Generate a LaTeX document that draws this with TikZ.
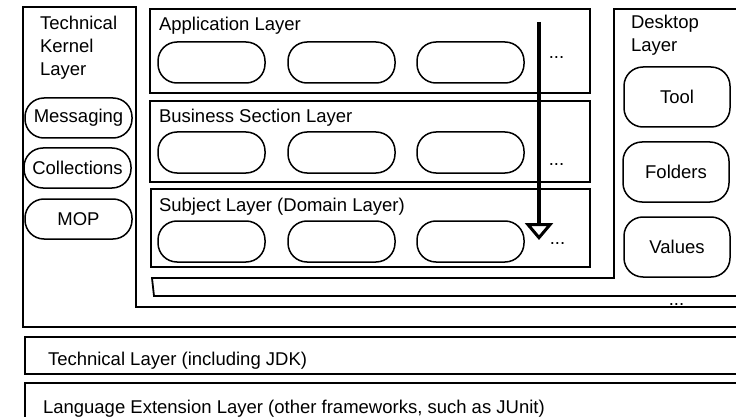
\documentclass[tikz,border=0pt]{standalone}
\usepackage{fontspec}
\setmainfont{Liberation Sans}
\usetikzlibrary{arrows.meta}
\begin{document}
\begin{tikzpicture}[x=1pt,y=-1pt,
  every node/.style={font=\fontsize{18.5}{22}\selectfont, inner sep=0pt, outer sep=0pt},
  frame/.style={draw=black, line width=1.8pt, line join=miter},
  layerbox/.style={draw=black, line width=1.8pt, anchor=north west, rectangle},
  pill/.style={draw=black, line width=1.5pt, rounded corners=19pt, minimum width=107pt, minimum height=41pt},
  deskbox/.style={draw=black, line width=1.5pt, rounded corners=19pt, minimum width=106pt, minimum height=60pt},
  lbl/.style={anchor=base west},
  ellip/.style={anchor=base}
]
\useasboundingbox (0,0) rectangle (736,417);
\clip (0,0) rectangle (736,417);
\fill[white] (0,0) rectangle (736,417);

% Technical Kernel Layer (L-shaped frame)
\draw[frame] (23,7) -- (136,7) -- (136,307) -- (745,307) -- (745,327) -- (23,327) -- cycle;
% Desktop layer joined with the base platform
\draw[frame] (152,278) -- (614,278) -- (614,9) -- (745,9) -- (745,296) -- (154,296) -- cycle;

% kernel title
\node[lbl] (kt1) at (40,30) {Technical};
\node[lbl] (kt2) at (40,53) {Kernel};
\node[lbl] (kt3) at (40,76) {Layer};

% kernel elements
\node[pill, minimum height=40pt] (msg) at (78.5,118) {Messaging};
\node[pill, minimum height=40pt] (coll) at (77.5,168) {Collections};
\node[pill, minimum height=40pt] (mop) at (78.5,219) {MOP};

% layer boxes
\node[layerbox, minimum width=440pt, minimum height=84pt] (app) at (150,9) {};
\node[layerbox, minimum width=440pt, minimum height=81pt] (bus) at (150,101) {};
\node[layerbox, minimum width=439pt, minimum height=78pt] (subj) at (151,189) {};

\node[lbl] (appt) at (159,31) {Application Layer};
\node[lbl] (bust) at (159,123) {Business Section Layer};
\node[lbl] (subjt) at (159,211) {Subject Layer (Domain Layer)};

\foreach \n/\y in {a/62.5, b/152.5, c/241.5}{
  \foreach \i/\x in {1/211.5, 2/341.5, 3/470.5}{
    \node[pill] (\n\i) at (\x,\y) {};
  }
}

\node[ellip] (da) at (556.5,59) {...};
\node[ellip] (db) at (556.5,165) {...};
\node[ellip] (dc) at (557.5,244) {...};
\node[ellip] (dd) at (676.5,305) {...};

% desktop layer
\node[lbl] (dt1) at (631,29) {Desktop};
\node[lbl] (dt2) at (631,52) {Layer};
\node[deskbox] (tool) at (677,97) {Tool};
\node[deskbox] (fold) at (676,172) {Folders};
\node[deskbox] (vals) at (677,247) {Values};

% arrow
\coordinate (arrtop) at (539,22);
\coordinate (arrend) at (539,240);
\draw[line width=4pt, -{Triangle[open, width=28pt, length=17pt, line width=3pt]}] (arrtop) -- (arrend);

% bottom layers
\node[layerbox, minimum width=730pt, minimum height=37pt] (tech) at (25,337) {};
\node[layerbox, minimum width=730pt, minimum height=50pt] (lang) at (25,383) {};
\node[lbl] (techt) at (48,365) {Technical Layer (including JDK)};
\node[lbl] (langt) at (43,413) {Language Extension Layer (other frameworks, such as JUnit)};
\end{tikzpicture}
\end{document}
